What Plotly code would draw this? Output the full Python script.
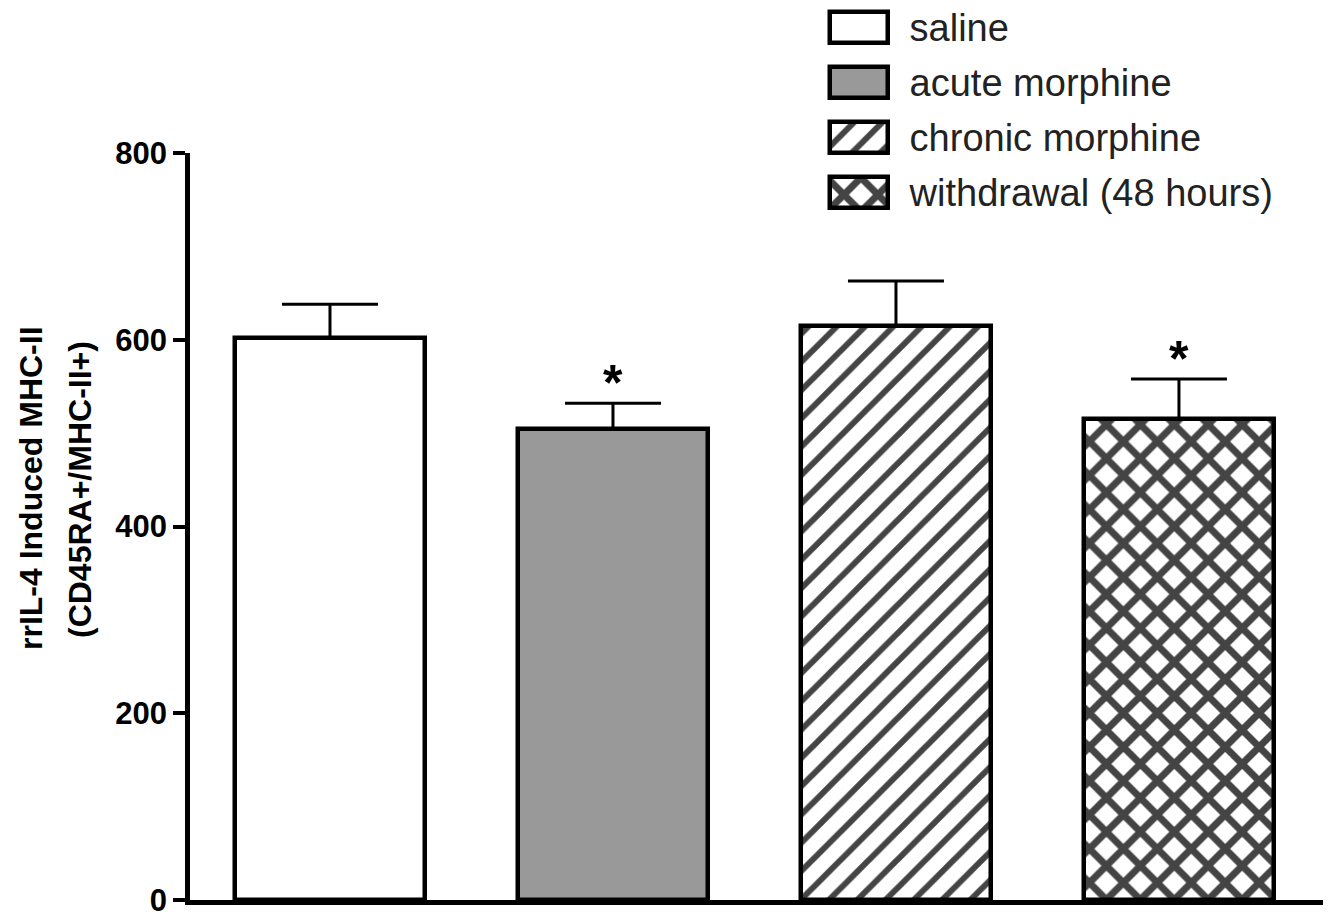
import plotly.graph_objects as go

# ---- data ----
groups = ["saline", "acute morphine", "chronic morphine", "withdrawal (48 hours)"]
means = [602, 504, 615, 515]
sem = [36, 28, 48, 43]
significant = [False, True, False, True]
fill_colors = ["white", "#999999", "white", "white"]
pattern_shapes = ["", "", "/", "x"]
pattern_sizes = [20, 20, 20, 24]
pattern_solidity = [0.3, 0.3, 0.3, 0.5]
y_ticks = [0, 200, 400, 600, 800]
y_title_1 = "rrIL-4 Induced MHC-II"
y_title_2 = "(CD45RA+/MHC-II+)"

# the page body has an 8px margin; lay the figure out in page pixels minus 8
OFF = 8
W, H = 1331 - 2 * OFF, 914 - OFF
L, R, T = 190 - OFF, 0, 0
B = H - (900 - OFF)
plot_w = W - L - R
plot_h = H - T - B

marker = dict(
    color=fill_colors,
    line=dict(color="black", width=4.5),
    pattern=dict(shape=pattern_shapes, size=pattern_sizes,
                 solidity=pattern_solidity, fgcolor="black", fgopacity=1,
                 fillmode="overlay"),
)

fig = go.Figure()
fig.add_trace(go.Bar(
    x=groups, y=means, width=0.671, marker=marker,
    error_y=dict(type="data", symmetric=False, array=sem,
                 arrayminus=[0] * len(sem), color="black",
                 thickness=3, width=48),
    showlegend=False, hoverinfo="skip",
))

# legend swatches as a small horizontal bar panel
fig.add_trace(go.Bar(
    y=groups, x=[1] * len(groups), base=0, orientation="h",
    width=0.56, marker=marker, xaxis="x2", yaxis="y2",
    showlegend=False, hoverinfo="skip",
))

for g, m, s, sig in zip(groups, means, sem, significant):
    if sig:
        fig.add_annotation(x=g, y=m + s, xref="x", yref="y",
                           text="<b>*</b>", showarrow=False,
                           yanchor="bottom", yshift=-10,
                           font=dict(size=50, color="black",
                                     family="Liberation Sans, Arial"))

main_top = (900 - 153) / plot_h
fig.add_annotation(x=(31 - OFF - L) / plot_w, y=(plot_h - (488 - OFF)) / plot_h,
                   xref="paper", yref="paper", text="<b>" + y_title_1 + "</b>",
                   textangle=-90, showarrow=False, xanchor="center",
                   yanchor="middle",
                   font=dict(size=32, color="black",
                             family="Liberation Sans, Arial"))
fig.add_annotation(x=(80 - OFF - L) / plot_w, y=(plot_h - (490 - OFF)) / plot_h,
                   xref="paper", yref="paper", text="<b>" + y_title_2 + "</b>",
                   textangle=-90, showarrow=False, xanchor="center",
                   yanchor="middle",
                   font=dict(size=32, color="black",
                             family="Liberation Sans, Arial"))

leg_bottom = 220 - OFF
fig.update_layout(
    template="none",
    width=W, height=H,
    margin=dict(l=L, r=R, t=T, b=B, pad=0, autoexpand=False),
    paper_bgcolor="white", plot_bgcolor="white",
    bargap=0,
    xaxis=dict(type="category", range=[-0.4947, 3.509], domain=[0, 1],
               showline=True, linecolor="black", linewidth=4.5,
               showticklabels=False, ticks="", showgrid=False,
               zeroline=False, fixedrange=True, anchor="y",
               automargin=False),
    yaxis=dict(range=[0, 800], domain=[0, main_top], tickvals=y_ticks,
               showline=True, linecolor="black", linewidth=4.5,
               ticks="outside", ticklen=12, tickwidth=4, tickcolor="black",
               tickfont=dict(size=31, color="black",
                             family="Liberation Sans, Arial", weight="bold"),
               ticklabeloverflow="allow",
               showgrid=False, zeroline=False, anchor="x",
               automargin=False),
    xaxis2=dict(domain=[(827 - OFF - L) / plot_w, (891 - OFF - L) / plot_w],
                range=[-0.05, 1.05], visible=False, anchor="y2",
                fixedrange=True, automargin=False),
    yaxis2=dict(domain=[1 - leg_bottom / plot_h, 1], type="category",
                range=[3.5, 3.5 - leg_bottom / 55.0], side="right",
                anchor="x2", showline=False, showgrid=False, zeroline=False,
                ticks="outside", ticklen=10, tickcolor="rgba(0,0,0,0)",
                tickfont=dict(size=38, color="#222222",
                              family="Liberation Sans, Arial"),
                ticklabeloverflow="allow", automargin=False),
)

fig.write_html("out.html")
